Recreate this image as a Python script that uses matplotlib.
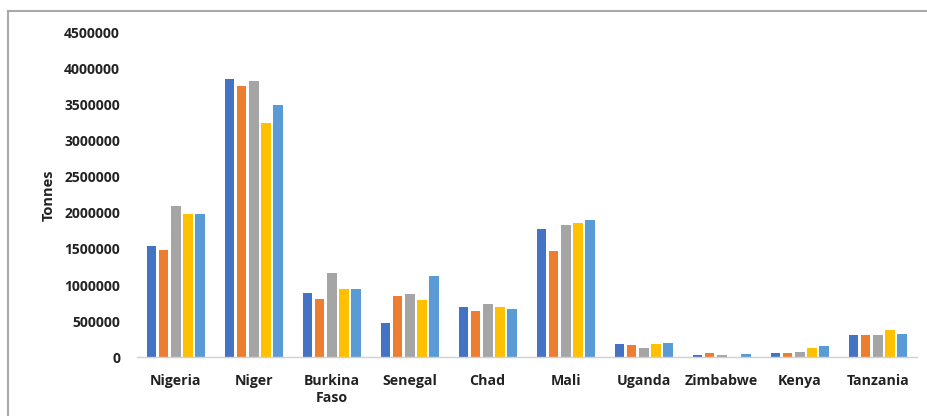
import matplotlib
matplotlib.use("Agg")
import matplotlib.pyplot as plt
import numpy as np
from matplotlib.lines import Line2D

plt.rcParams['font.family'] = ['Open Sans', 'DejaVu Sans']

countries = ["Nigeria", "Niger", "Burkina\nFaso", "Senegal", "Chad", "Mali",
             "Uganda", "Zimbabwe", "Kenya", "Tanzania"]
series1 = [1540000, 3860000, 890000, 480000, 700000, 1780000, 180000, 28000, 55000, 307000]
series2 = [1480000, 3760000, 810000, 855000, 645000, 1470000, 165000, 60000, 55000, 307000]
series3 = [2100000, 3830000, 1170000, 875000, 740000, 1830000, 133000, 30000, 70000, 307000]
series4 = [1980000, 3250000, 950000, 795000, 695000, 1860000, 180000, 0, 130000, 375000]
series5 = [1980000, 3490000, 940000, 1120000, 675000, 1900000, 193000, 40000, 150000, 320000]
yticks = [0, 500000, 1000000, 1500000, 2000000, 2500000, 3000000, 3500000, 4000000, 4500000]

colors = ["#4472C4", "#ED7D31", "#A5A5A5", "#FFC000", "#5B9BD5"]
all_series = [series1, series2, series3, series4, series5]

fig = plt.figure(figsize=(9.28, 4.16), dpi=100)
ax = fig.add_axes([0.1473, 0.1412, 0.8405, 0.7812])

x = np.arange(len(countries))
pitch = 0.155
width = 0.124
for i, (s, c) in enumerate(zip(all_series, colors)):
    ax.bar(x + (i - 2) * pitch, s, width=width, color=c, zorder=2)

ax.set_xlim(-0.5, len(countries) - 0.5)
ax.set_ylim(0, 4500000)
ax.set_yticks(yticks)
ax.set_yticklabels([str(v) for v in yticks], fontsize=10, fontweight='bold', color='#222222')
ax.set_xticks(x)
ax.set_xticklabels(countries, fontsize=10.2, fontweight='bold', color='#222222', linespacing=1.25)
ax.tick_params(axis='both', length=0)
ax.tick_params(axis='x', pad=12)
ax.tick_params(axis='y', pad=12)
for side in ['top', 'right', 'left']:
    ax.spines[side].set_visible(False)
ax.spines['bottom'].set_color('#D0D0D0')
ax.spines['bottom'].set_linewidth(1.0)
ax.set_ylabel("Tonnes", fontsize=10.5, fontweight='bold', color='#222222', labelpad=6)

fig.lines.append(Line2D([8 / 928, 8 / 928], [0, 1 - 10.5 / 416], transform=fig.transFigure,
                        color='#A8A8A8', linewidth=1.5))
fig.lines.append(Line2D([8 / 928, 1], [1 - 10.5 / 416, 1 - 10.5 / 416], transform=fig.transFigure,
                        color='#A8A8A8', linewidth=1.5))

fig.savefig("out.png", dpi=100)
